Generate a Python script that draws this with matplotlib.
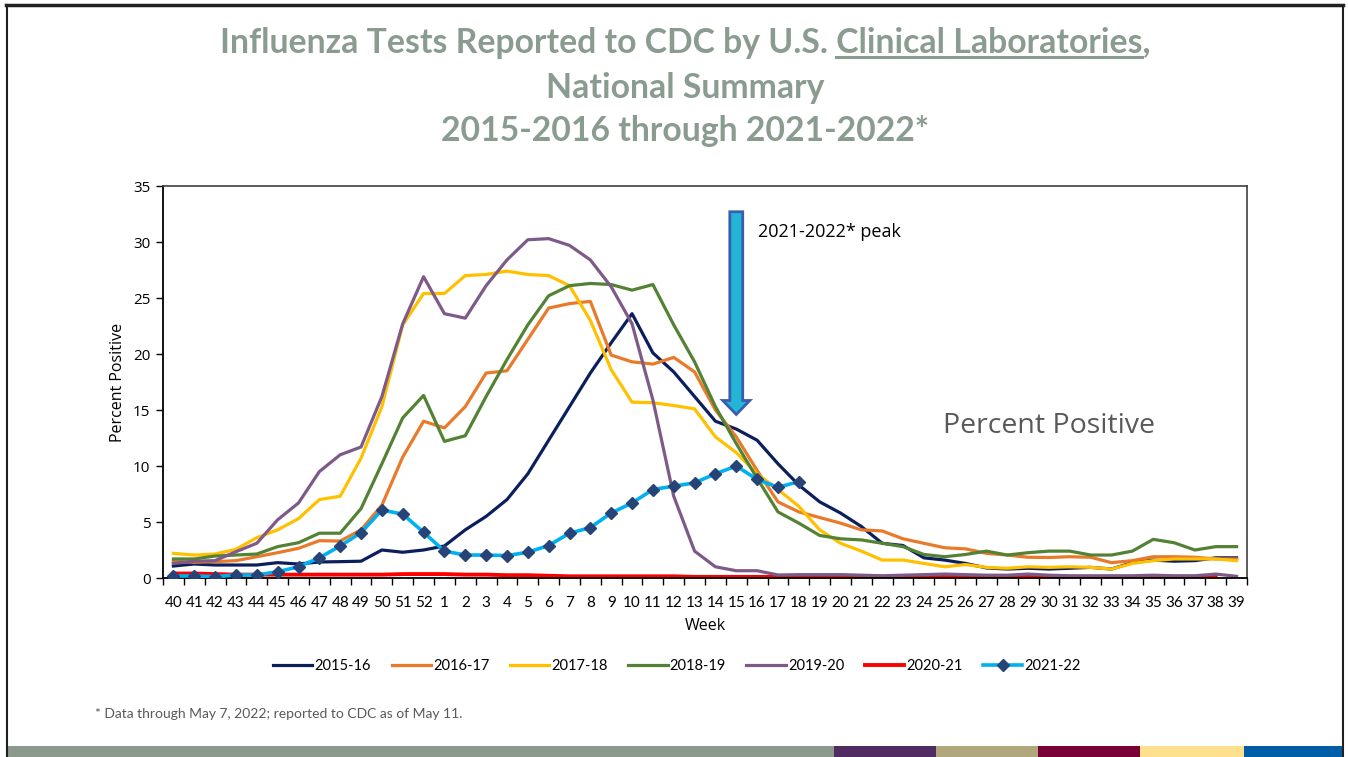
import numpy as np
import matplotlib
matplotlib.use('Agg')
import matplotlib.pyplot as plt
from matplotlib.lines import Line2D
from matplotlib.patches import FancyArrow, Rectangle

weeks = [str(w) for w in list(range(40, 53)) + list(range(1, 40))]

s2015 = [1.07, 1.25, 1.16, 1.16, 1.16, 1.37, 1.25, 1.43, 1.46, 1.5, 2.5, 2.3, 2.5,
         2.86, 4.3, 5.5, 7.0, 9.3, 12.3, 15.3, 18.3, 21.0, 23.6, 20.1, 18.4, 16.2, 14.0, 13.3,
         12.3, 10.2, 8.3, 6.8, 5.8, 4.6, 3.1, 2.9, 1.8, 1.6, 1.3, 0.9,
         0.8, 0.87, 0.8, 0.87, 0.95, 0.8, 1.37, 1.6, 1.5, 1.55, 1.8, 1.8]
s2016 = [1.5, 1.4, 1.46, 1.55, 1.9, 2.26, 2.65, 3.33, 3.3, 4.3, 6.5, 10.8, 14.0,
         13.4, 15.3, 18.3, 18.5, 21.3, 24.1, 24.5, 24.7, 19.9, 19.3, 19.1, 19.7, 18.4, 15.0, 12.6,
         9.6, 6.8, 5.9, 5.4, 4.9, 4.3, 4.2, 3.5, 3.1, 2.7, 2.6, 2.2,
         2.05, 1.85, 1.83, 1.9, 1.85, 1.37, 1.55, 1.9, 1.9, 1.85, 1.7, 1.7]
s2017 = [2.2, 2.05, 2.14, 2.56, 3.6, 4.3, 5.3, 7.0, 7.3, 10.7, 15.3, 22.6, 25.4,
         25.4, 27.0, 27.1, 27.4, 27.1, 27.0, 26.1, 23.0, 18.6, 15.7, 15.65, 15.4, 15.1, 12.6, 11.2,
         9.3, 7.9, 6.4, 4.3, 3.1, 2.4, 1.6, 1.6, 1.3, 1.0, 1.2, 0.95,
         0.87, 1.0, 0.95, 1.0, 0.95, 0.8, 1.3, 1.55, 1.7, 1.7, 1.7, 1.55]
s2018 = [1.7, 1.7, 1.96, 2.05, 2.14, 2.8, 3.15, 4.0, 4.0, 6.2, 10.2, 14.3, 16.3,
         12.2, 12.7, 16.2, 19.5, 22.6, 25.2, 26.1, 26.3, 26.2, 25.7, 26.2, 22.6, 19.3, 15.3, 12.0,
         8.9, 5.9, 4.9, 3.8, 3.5, 3.4, 3.1, 2.8, 2.1, 1.9, 2.1, 2.4,
         2.05, 2.26, 2.4, 2.4, 2.05, 2.05, 2.4, 3.45, 3.15, 2.5, 2.8, 2.8]
s2019 = [1.3, 1.5, 1.55, 2.35, 3.1, 5.2, 6.7, 9.5, 11.0, 11.7, 16.2, 22.7, 26.9,
         23.6, 23.2, 26.1, 28.4, 30.2, 30.3, 29.7, 28.4, 26.0, 22.7, 15.9, 7.3, 2.4, 1.0, 0.65,
         0.65, 0.27, 0.3, 0.3, 0.3, 0.25, 0.2, 0.25, 0.3, 0.35, 0.3, 0.25,
         0.25, 0.35, 0.25, 0.2, 0.2, 0.2, 0.2, 0.25, 0.2, 0.2, 0.35, 0.15]
s2020 = [0.4, 0.4, 0.35, 0.3, 0.3, 0.3, 0.3, 0.3, 0.3, 0.3, 0.3, 0.35, 0.35,
         0.35, 0.3, 0.3, 0.25, 0.25, 0.2, 0.15, 0.15, 0.15, 0.15, 0.15, 0.15, 0.1, 0.1, 0.1,
         0.1, 0.1, 0.1, 0.1, 0.1, 0.1, 0.1, 0.1, 0.1, 0.1, 0.1, 0.1,
         0.1, 0.1, 0.1, 0.1, 0.1, 0.1, 0.1, 0.1, 0.1, 0.1, 0.1, np.nan]
s2021 = [0.18, 0.18, 0.12, 0.27, 0.27, 0.56, 1.0, 1.8, 2.86, 4.05, 6.07, 5.7, 4.08,
         2.4, 2.05, 2.05, 2.0, 2.3, 2.9, 4.0, 4.5, 5.8, 6.7, 7.9, 8.2, 8.5, 9.3, 10.0,
         8.8, 8.1, 8.6] + [np.nan] * 21

seasons = ['2015-16', '2016-17', '2017-18', '2018-19', '2019-20', '2020-21', '2021-22']
colors = ['#0B1F5C', '#E97A2A', '#FFC000', '#548235', '#7E5A88', '#FF0000', '#00B0F0']

peak_week = 27  # index of week 15
peak_label = '2021-2022* peak'

fig = plt.figure(figsize=(13.48, 7.57), dpi=100)
ax = fig.add_axes([163 / 1348, 1 - 578 / 757, (1247 - 163) / 1348, (578 - 186) / 757])

x = np.arange(len(weeks))
series = [s2015, s2016, s2017, s2018, s2019, s2020, s2021]
for i, (name, vals, c) in enumerate(zip(seasons, series, colors)):
    if name == '2021-22':
        ax.plot(x, vals, color=c, lw=2.6, marker='D', ms=6.5, mfc='#264478', mec='#264478',
                label=name, zorder=5)
    elif name == '2020-21':
        ax.plot(x, vals, color=c, lw=2.8, label=name, zorder=1)
    else:
        ax.plot(x, vals, color=c, lw=2.3, label=name, zorder=2 + i * 0.1)

ax.set_xlim(-0.5, 51.5)
ax.set_ylim(0, 35)
ax.set_yticks(range(0, 36, 5))
ax.set_xticks(x)
ax.set_xticklabels(weeks, fontsize=11, family='Lato')
ax.set_xticks(np.arange(-0.5, 52, 1), minor=True)
ax.tick_params(axis='x', which='major', length=0, pad=13)
ax.tick_params(axis='x', which='minor', length=5, direction='out', width=1)
ax.tick_params(axis='y', length=5, direction='out', width=1, pad=4, labelsize=11)
for lab in ax.get_yticklabels():
    lab.set_family('Open Sans')
for s in ['top', 'right']:
    ax.spines[s].set_color('#404040')
    ax.spines[s].set_linewidth(1.2)
for s in ['left', 'bottom']:
    ax.spines[s].set_color('black')
    ax.spines[s].set_linewidth(1.3)

ax.set_xlabel('Week', fontsize=11.5, family='Open Sans', labelpad=6)
ax.set_ylabel('Percent Positive', fontsize=11.5, family='Open Sans', labelpad=5)

arrow = FancyArrow(peak_week, 32.7, 0, -18.1, width=0.62, head_width=1.3, head_length=1.25,
                   length_includes_head=True, facecolor='#22B5D5', edgecolor='#3A5DB0',
                   lw=2, zorder=6)
ax.add_patch(arrow)
ax.text(peak_week + 1.05, 30.9, peak_label, fontsize=13, family='Open Sans',
        va='center', ha='left', color='black')
ax.text(36.93, 13.6, 'Percent Positive', fontsize=20.5, family='Open Sans',
        va='center', ha='left', color='#595959')

leg = fig.legend(loc='center', bbox_to_anchor=(677 / 1348, 1 - 666 / 757), ncol=7, frameon=False,
                 prop={'family': 'Lato', 'size': 10.5}, handlelength=2.7,
                 handletextpad=0.15, columnspacing=1.4)

# title, sized to the reference width
tcol = '#8A9B8F'
tfont = dict(family='Lato', fontweight='bold', color=tcol, ha='center', va='center')
line1 = 'Influenza Tests Reported to CDC by U.S. Clinical Laboratories,'
t1 = fig.text(685 / 1348, 1 - 43 / 757, line1, fontsize=25, **tfont)
fig.canvas.draw()
r = fig.canvas.get_renderer()
tsize = 25 * 932 / t1.get_window_extent(r).width
t1.set_fontsize(tsize)
fig.text(685 / 1348, 1 - 88 / 757, 'National Summary', fontsize=tsize, **tfont)
fig.text(685 / 1348, 1 - 131 / 757, '2015-2016 through 2021-2022*', fontsize=tsize, **tfont)

bb = t1.get_window_extent(r)
tmp = fig.text(0, 0, 'Influenza Tests Reported to CDC by U.S. Clinical Laboratories', fontsize=tsize, **tfont)
w2 = tmp.get_window_extent(r).width
tmp.set_text('Clinical Laboratories')
w3 = tmp.get_window_extent(r).width
tmp.remove()
x_end = bb.x0 + w2
x_start = x_end - w3
uy = bb.y0 + 2
fig.add_artist(Line2D([x_start / 1348, x_end / 1348], [uy / 757, uy / 757], color=tcol, lw=2.2,
                      transform=fig.transFigure))

fig.text(95 / 1348, 1 - 714 / 757, '* Data through May 7, 2022; reported to CDC as of May 11.',
         fontsize=10, family='Lato', color='#595959', va='center', ha='left')

# slide frame and bottom stripe
stripe = [(8, 834, '#8C9A8E'), (834, 936, '#512C62'), (936, 1038, '#B0A77D'),
          (1038, 1140, '#7A0038'), (1140, 1244, '#FFE08F'), (1244, 1344, '#005EA8')]
for x0, x1, c in stripe:
    fig.add_artist(Rectangle((x0 / 1348, 0), (x1 - x0) / 1348, 11 / 757, color=c,
                             transform=fig.transFigure, lw=0))
fig.add_artist(Line2D([6 / 1348, 1343 / 1348], [1 - 5 / 757, 1 - 5 / 757], color='#202020', lw=2.5,
                      transform=fig.transFigure))
fig.add_artist(Line2D([7 / 1348, 7 / 1348], [0, 1 - 5 / 757], color='#202020', lw=1.5,
                      transform=fig.transFigure))
fig.add_artist(Line2D([1343 / 1348, 1343 / 1348], [0, 1 - 5 / 757], color='#202020', lw=1.5,
                      transform=fig.transFigure))

fig.savefig('out.png', dpi=100)
